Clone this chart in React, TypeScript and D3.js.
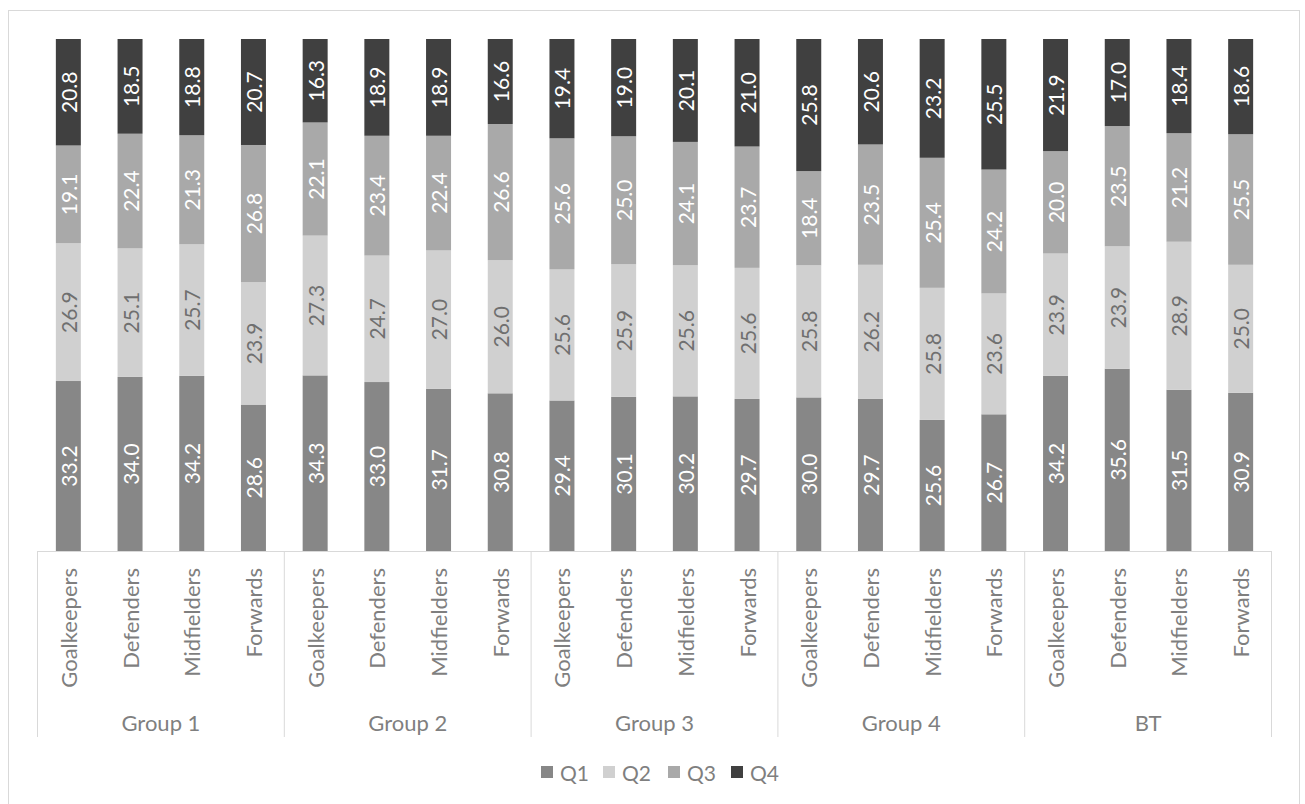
import React from "react";
import * as d3 from "d3";

// Quartile shares (%) per position, listed group by group
const groups = ["Group 1", "Group 2", "Group 3", "Group 4", "BT"];
const positions = ["Goalkeepers", "Defenders", "Midfielders", "Forwards"];
const quartiles = ["Q1", "Q2", "Q3", "Q4"];

const q1 = [33.2, 34.0, 34.2, 28.6, 34.3, 33.0, 31.7, 30.8, 29.4, 30.1, 30.2, 29.7, 30.0, 29.7, 25.6, 26.7, 34.2, 35.6, 31.5, 30.9];
const q2 = [26.9, 25.1, 25.7, 23.9, 27.3, 24.7, 27.0, 26.0, 25.6, 25.9, 25.6, 25.6, 25.8, 26.2, 25.8, 23.6, 23.9, 23.9, 28.9, 25.0];
const q3 = [19.1, 22.4, 21.3, 26.8, 22.1, 23.4, 22.4, 26.6, 25.6, 25.0, 24.1, 23.7, 18.4, 23.5, 25.4, 24.2, 20.0, 23.5, 21.2, 25.5];
const q4 = [20.8, 18.5, 18.8, 20.7, 16.3, 18.9, 18.9, 16.6, 19.4, 19.0, 20.1, 21.0, 25.8, 20.6, 23.2, 25.5, 21.9, 17.0, 18.4, 18.6];

const fills = ["#878787", "#d0d0d0", "#a9a9a9", "#404040"];
const labelColors = ["#ffffff", "#6f6f6f", "#ffffff", "#ffffff"];

const W = 1305;
const H = 804;
const left = 37.5;
const right = 1271.5;
const top = 39;
const base = 551;
const FONT = "Lato, 'Open Sans', sans-serif";

type Row = { key: string; group: string; pos: string; Q1: number; Q2: number; Q3: number; Q4: number };

const rows: Row[] = [];
groups.forEach((g, gi) =>
  positions.forEach((p, pi) => {
    const i = gi * positions.length + pi;
    rows.push({ key: `${g}|${p}`, group: g, pos: p, Q1: q1[i], Q2: q2[i], Q3: q3[i], Q4: q4[i] });
  })
);

export default function App() {
  const x = d3
    .scaleBand<string>()
    .domain(rows.map((r) => r.key))
    .range([left, right])
    .paddingInner(0.595)
    .paddingOuter(0.2975);
  const xg = d3.scaleBand<string>().domain(groups).range([left, right]).padding(0);
  const y = d3.scaleLinear().domain([0, 1]).range([base, top]);

  const series = d3
    .stack<Row>()
    .keys(quartiles)
    .offset(d3.stackOffsetExpand)(rows);

  const bw = x.bandwidth();
  const legendX = [541, 603, 668, 731];

  return (
    <div style={{ position: "fixed", left: 0, top: 0 }}>
      <svg width={W} height={H} style={{ display: "block", background: "#fff" }}>
        <rect x={8.5} y={10.5} width={1291} height={820} fill="#fff" stroke="#d9d9d9" strokeWidth={1} />

        {series.map((s, si) => (
          <g key={s.key}>
            {s.map((d, i) => {
              const r = rows[i];
              const x0 = x(r.key)!;
              const y0 = y(d[1]);
              const y1 = y(d[0]);
              const cx = x0 + bw / 2;
              const cy = (y0 + y1) / 2;
              const val = (r as any)[s.key] as number;
              return (
                <g key={r.key}>
                  <rect x={x0} y={y0} width={bw} height={y1 - y0} fill={fills[si]} />
                  <text
                    transform={`translate(${cx},${cy}) rotate(-90)`}
                    textAnchor="middle"
                    dominantBaseline="central"
                    fontFamily={FONT}
                    fontSize={21}
                    fill={labelColors[si]}
                  >
                    {val.toFixed(1)}
                  </text>
                </g>
              );
            })}
          </g>
        ))}

        {/* category axis */}
        <line x1={left} x2={right} y1={base + 0.5} y2={base + 0.5} stroke="#d9d9d9" />
        {groups.map((g) => (
          <line key={g} x1={xg(g)!} x2={xg(g)!} y1={base} y2={737} stroke="#d9d9d9" />
        ))}
        <line x1={right} x2={right} y1={base} y2={737} stroke="#d9d9d9" />

        {rows.map((r) => (
          <text
            key={r.key}
            transform={`translate(${x(r.key)! + bw / 2},568) rotate(-90)`}
            textAnchor="end"
            dominantBaseline="central"
            fontFamily={FONT}
            fontSize={22}
            fill="#7f7f7f"
          >
            {r.pos}
          </text>
        ))}
        {groups.map((g) => (
          <text
            key={g}
            x={xg(g)! + xg.bandwidth() / 2}
            y={722}
            textAnchor="middle"
            dominantBaseline="central"
            fontFamily={FONT}
            fontSize={22}
            fill="#7f7f7f"
          >
            {g}
          </text>
        ))}

        {/* legend */}
        {quartiles.map((q, i) => (
          <g key={q}>
            <rect x={legendX[i]} y={766} width={12} height={12} fill={fills[i]} />
            <text x={legendX[i] + 19} y={772} dominantBaseline="central" fontFamily={FONT} fontSize={21} fill="#7f7f7f">
              {q}
            </text>
          </g>
        ))}
      </svg>
    </div>
  );
}
